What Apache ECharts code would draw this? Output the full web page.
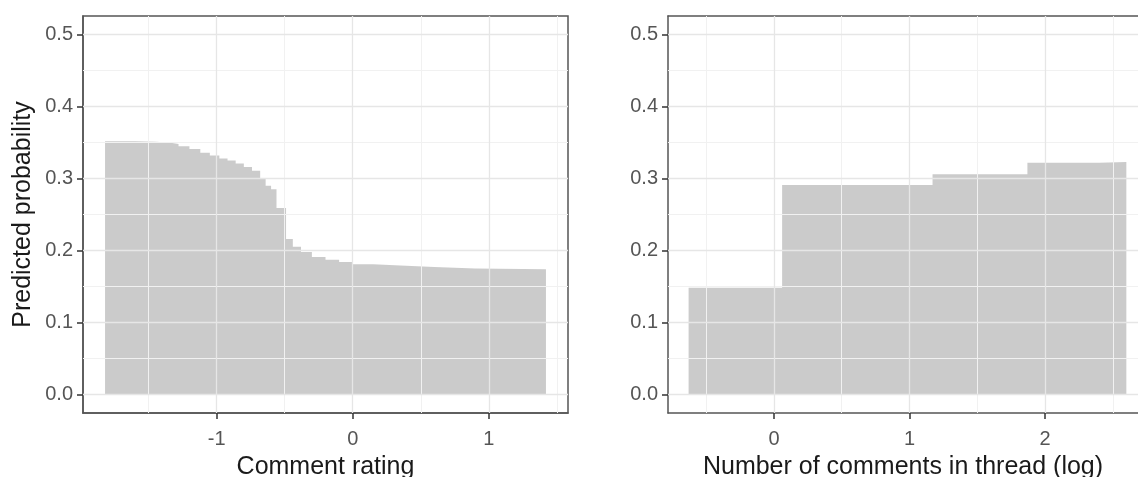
<!DOCTYPE html>
<html>
<head>
<meta charset="utf-8">
<script src="https://cdn.jsdelivr.net/npm/echarts@6/dist/echarts.min.js"></script>
<style>
  html, body { margin: 0; padding: 0; background: #fff; }
  #chart { width: 1138px; height: 477px; }
</style>
</head>
<body>
<div id="chart"></div>
<script>
// left panel: comment rating -> predicted probability (step curve)
const ratingX = [-1.82, -1.60, -1.45, -1.35, -1.28, -1.20, -1.12, -1.05, -0.98, -0.92, -0.86, -0.80, -0.74, -0.68, -0.64, -0.60, -0.56, -0.49, -0.44, -0.38, -0.30, -0.20, -0.10, 0.00, 0.15, 0.35, 0.60, 0.90, 1.42];
const ratingProb = [0.352, 0.351, 0.350, 0.348, 0.345, 0.341, 0.336, 0.332, 0.328, 0.325, 0.321, 0.316, 0.311, 0.300, 0.290, 0.285, 0.259, 0.216, 0.205, 0.198, 0.191, 0.187, 0.184, 0.181, 0.179, 0.177, 0.175, 0.174, 0.174];

// right panel: number of comments in thread (log)
const threadX = [-0.63, 0.06, 1.17, 1.87, 2.40, 2.60];
const threadProb = [0.148, 0.291, 0.306, 0.322, 0.323, 0.323];

// tick labels
const probTicks = [0, 0.1, 0.2, 0.3, 0.4, 0.5];
const probMinor = [0.05, 0.15, 0.25, 0.35, 0.45];
const ratingTicks = [-1, 0, 1];
const ratingMinor = [-1.5, -0.5, 0.5, 1.5];
const threadTicks = [0, 1, 2];
const threadMinor = [-0.5, 0.5, 1.5, 2.5];

const font = "'Liberation Sans', Arial, sans-serif";
const fillColor = '#cacaca';
const frame = { color: '#555', width: 1.5 };
const tickStyle = { color: '#333', width: 1.5 };

function xAxisFor(gridIndex, min, max, ticks, name) {
  return {
    type: 'value',
    gridIndex: gridIndex,
    min: min,
    max: max,
    name: name,
    nameLocation: 'middle',
    nameGap: 42,
    nameTextStyle: { color: '#1a1a1a', fontSize: 25, fontFamily: font },
    axisLine: { show: true, onZero: false, lineStyle: frame },
    axisTick: { show: true, length: 6, customValues: ticks, lineStyle: tickStyle },
    axisLabel: { customValues: ticks, color: '#555', fontSize: 20, fontFamily: font, margin: 16 },
    splitLine: { show: false }
  };
}

function yAxisFor(gridIndex, name) {
  return {
    type: 'value',
    gridIndex: gridIndex,
    min: -0.026,
    max: 0.526,
    name: name,
    nameLocation: 'middle',
    nameGap: 47,
    nameTextStyle: { color: '#1a1a1a', fontSize: 25, fontFamily: font },
    axisLine: { show: true, onZero: false, lineStyle: frame },
    axisTick: { show: true, length: 6, customValues: probTicks, lineStyle: tickStyle },
    axisLabel: {
      customValues: probTicks,
      color: '#555', fontSize: 20, fontFamily: font, margin: 10,
      formatter: (v) => v.toFixed(1)
    },
    splitLine: { show: false }
  };
}

// grid lines drawn as markLines on an empty series, kept under the area
function gridSeries(idx, xMajor, xMinor) {
  const minor = { color: '#f1f1f1', width: 1, type: 'solid' };
  const major = { color: '#e6e6e6', width: 1.3, type: 'solid' };
  const lines = [];
  xMinor.forEach((v) => lines.push({ xAxis: v, lineStyle: minor }));
  probMinor.forEach((v) => lines.push({ yAxis: v, lineStyle: minor }));
  xMajor.forEach((v) => lines.push({ xAxis: v, lineStyle: major }));
  probTicks.forEach((v) => lines.push({ yAxis: v, lineStyle: major }));
  return {
    type: 'line',
    xAxisIndex: idx,
    yAxisIndex: idx,
    data: [],
    z: 1,
    silent: true,
    markLine: {
      silent: true,
      symbol: 'none',
      label: { show: false },
      animation: false,
      lineStyle: { type: 'solid' },
      data: lines
    }
  };
}

function stepSeries(idx, xs, ys) {
  return {
    type: 'line',
    xAxisIndex: idx,
    yAxisIndex: idx,
    step: 'end',
    symbol: 'none',
    z: 3,
    lineStyle: { width: 0 },
    areaStyle: { color: fillColor, opacity: 0.98 },
    data: xs.map((x, i) => [x, ys[i]])
  };
}

// top edge of the right panel (its right edge falls outside the picture)
const topEdge = {
  type: 'value',
  gridIndex: 1,
  position: 'top',
  min: -0.782,
  max: 2.686,
  axisLine: { show: true, onZero: false, lineStyle: frame },
  axisTick: { show: false },
  axisLabel: { show: false },
  splitLine: { show: false }
};

const chart = echarts.init(document.getElementById('chart'));
chart.setOption({
  animation: false,
  backgroundColor: '#fff',
  grid: [
    { left: 83, top: 16, width: 485, height: 397, outerBoundsMode: 'none', show: true, borderColor: '#555', borderWidth: 1.5, backgroundColor: 'transparent' },
    { left: 668, top: 16, right: 0, height: 397, outerBoundsMode: 'none', show: false }
  ],
  xAxis: [
    xAxisFor(0, -1.982, 1.582, ratingTicks, 'Comment rating'),
    xAxisFor(1, -0.782, 2.686, threadTicks, 'Number of comments in thread (log)'),
    topEdge
  ],
  yAxis: [
    yAxisFor(0, 'Predicted probability'),
    yAxisFor(1, '')
  ],
  series: [
    gridSeries(0, ratingTicks, ratingMinor),
    gridSeries(1, threadTicks, threadMinor),
    stepSeries(0, ratingX, ratingProb),
    stepSeries(1, threadX, threadProb)
  ]
});
</script>
</body>
</html>
